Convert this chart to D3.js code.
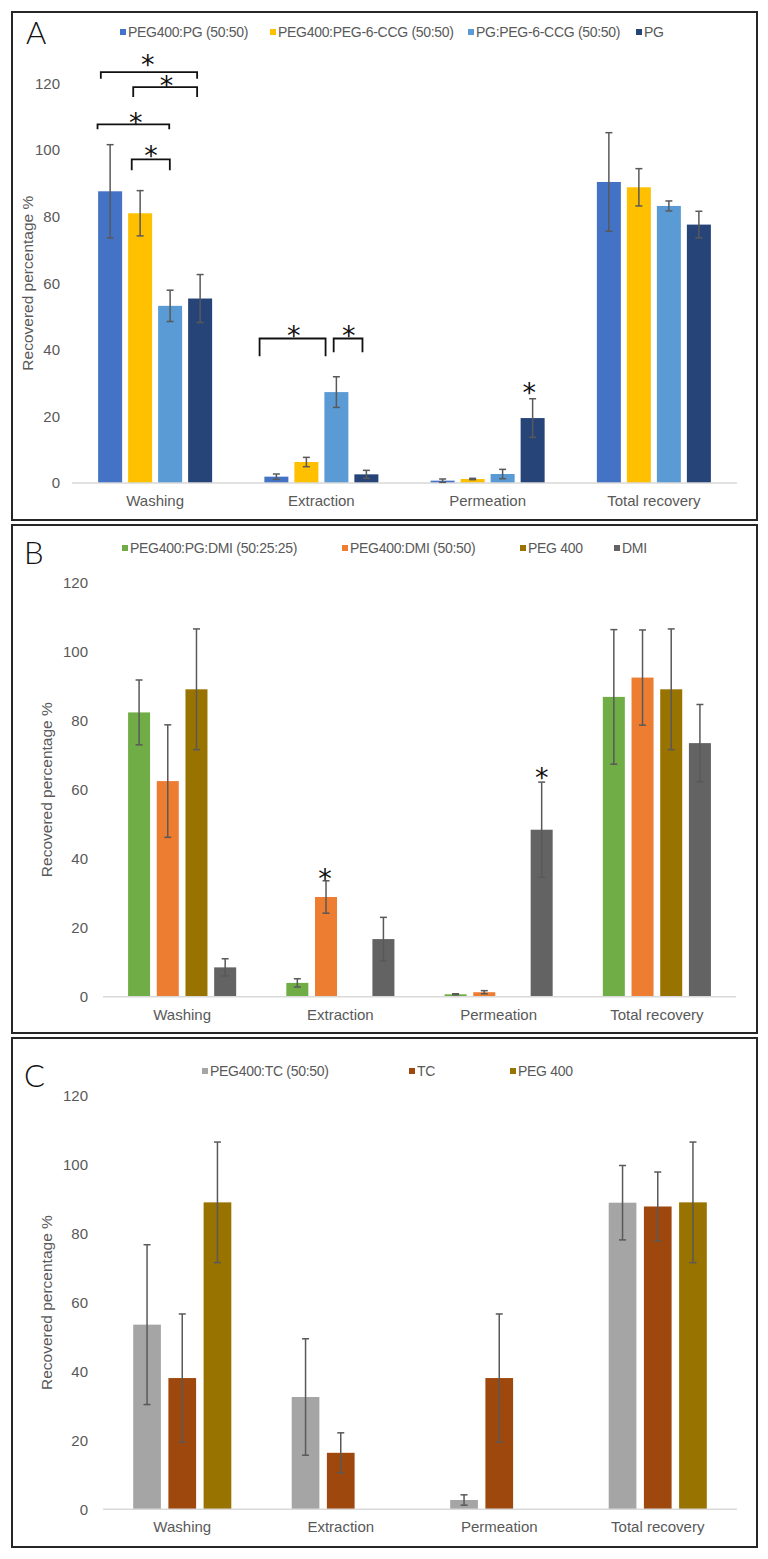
<!DOCTYPE html>
<html>
<head>
<meta charset="utf-8">
<script src="https://cdn.jsdelivr.net/npm/d3@7/dist/d3.min.js"></script>
<style>
  html, body { margin: 0; padding: 0; background: #fff; }
  svg { display: block; }
</style>
</head>
<body>
<svg id="chart" width="768" height="1559"></svg>
<script>
// ---------------- DATA ----------------
const categories = ["Washing", "Extraction", "Permeation", "Total recovery"];
const yTicks = [0, 20, 40, 60, 80, 100, 120];

// Panel A
const seriesA = ["PEG400:PG (50:50)", "PEG400:PEG-6-CCG (50:50)", "PG:PEG-6-CCG (50:50)", "PG"];
const colorsA = ["#4472C4", "#FFC000", "#5B9BD5", "#264478"];
const meanA_PEG400_PG = [87.6, 1.9, 0.7, 90.4];
const errA_PEG400_PG = [14.0, 0.8, 0.5, 14.8];
const meanA_PEG400_CCG = [81.0, 6.3, 1.2, 88.8];
const errA_PEG400_CCG = [6.8, 1.4, 0.2, 5.6];
const meanA_PG_CCG = [53.2, 27.3, 2.7, 83.2];
const errA_PG_CCG = [4.7, 4.6, 1.4, 1.5];
const meanA_PG = [55.4, 2.6, 19.5, 77.6];
const errA_PG = [7.2, 1.2, 5.8, 4.0];

// Panel B
const seriesB = ["PEG400:PG:DMI (50:25:25)", "PEG400:DMI (50:50)", "PEG 400", "DMI"];
const colorsB = ["#70AD47", "#ED7D31", "#997300", "#636363"];
const meanB_PEG400_PG_DMI = [82.4, 4.0, 0.7, 86.9];
const errB_PEG400_PG_DMI = [9.4, 1.2, 0.15, 19.5];
const meanB_PEG400_DMI = [62.5, 28.9, 1.3, 92.5];
const errB_PEG400_DMI = [16.3, 4.7, 0.45, 13.8];
const meanB_PEG400 = [89.1, null, null, 89.1];
const errB_PEG400 = [17.5, null, null, 17.5];
const meanB_DMI = [8.5, 16.7, 48.4, 73.5];
const errB_DMI = [2.5, 6.3, 13.8, 11.2];

// Panel C
const seriesC = ["PEG400:TC (50:50)", "TC", "PEG 400"];
const colorsC = ["#A5A5A5", "#9E480E", "#997300"];
const meanC_PEG400_TC = [53.6, 32.6, 2.7, 89.0];
const errC_PEG400_TC = [23.2, 16.9, 1.5, 10.8];
const meanC_TC = [38.1, 16.4, 38.1, 87.9];
const errC_TC = [18.6, 5.8, 18.6, 10.0];
const meanC_PEG400 = [89.1, null, null, 89.1];
const errC_PEG400 = [17.5, null, null, 17.5];

// Significance annotations (category index, bar-slot positions, value levels)
const bracketsA = [
  { cat: 0, from: -0.31, to: 2.90, top: 123.4, foot: 121.4 },
  { cat: 0, from: 0.77, to: 2.90, top: 118.9, foot: 115.9 },
  { cat: 0, from: -0.42, to: 1.97, top: 107.7, foot: 106.2 },
  { cat: 0, from: 0.72, to: 1.99, top: 97.2, foot: 93.9 },
  { cat: 1, from: -0.56, to: 1.64, top: 43.4, foot: 38.1 },
  { cat: 1, from: 1.91, to: 2.87, top: 43.4, foot: 39.3 }
];
const starsA = [
  { cat: 0, slot: 1.25, value: 127.4 },
  { cat: 0, slot: 1.88, value: 121.2 },
  { cat: 0, slot: 0.85, value: 110.0 },
  { cat: 0, slot: 1.36, value: 100.0 },
  { cat: 1, slot: 0.575, value: 46.2 },
  { cat: 1, slot: 2.41, value: 46.2 },
  { cat: 2, slot: 2.89, value: 28.9 }
];
const starsB = [
  { cat: 1, slot: 0.96, value: 36.1 },
  { cat: 2, slot: 3.0, value: 65.2 }
];

// ---------------- LAYOUT ----------------
const panels = [
  {
    letter: "A", frame: [12, 12, 757, 520], letterPos: [26, 44],
    x0: 72, x1: 737, yZero: 483, yTop: 83.4, tickRight: 60, titleX: 28,
    groupW: 114, padInner: 0.2, labelDy: 23,
    series: seriesA, colors: colorsA,
    means: [meanA_PEG400_PG, meanA_PEG400_CCG, meanA_PG_CCG, meanA_PG],
    errs: [errA_PEG400_PG, errA_PEG400_CCG, errA_PG_CCG, errA_PG],
    legendX: [120, 270, 468, 636], legendY: 32,
    brackets: bracketsA, stars: starsA
  },
  {
    letter: "B", frame: [12, 525, 757, 1033], letterPos: [24, 564],
    x0: 103, x1: 736, yZero: 996.7, yTop: 582.7, tickRight: 88, titleX: 47,
    groupW: 108.1, padInner: 0.233, labelDy: 23,
    series: seriesB, colors: colorsB,
    means: [meanB_PEG400_PG_DMI, meanB_PEG400_DMI, meanB_PEG400, meanB_DMI],
    errs: [errB_PEG400_PG_DMI, errB_PEG400_DMI, errB_PEG400, errB_DMI],
    legendX: [122, 342, 520, 614], legendY: 548,
    brackets: [], stars: starsB
  },
  {
    letter: "C", frame: [12, 1038, 757, 1547], letterPos: [24, 1087],
    x0: 103, x1: 737, yZero: 1509.3, yTop: 1095.9, tickRight: 88, titleX: 47,
    groupW: 98.1, padInner: 0.213, labelDy: 23,
    series: seriesC, colors: colorsC,
    means: [meanC_PEG400_TC, meanC_TC, meanC_PEG400],
    errs: [errC_PEG400_TC, errC_TC, errC_PEG400],
    legendX: [202, 409, 510], legendY: 1071,
    brackets: [], stars: []
  }
];

const svg = d3.select("#chart");
const textGray = "#595959";
const fontMain = "'Liberation Sans', Arial, sans-serif";

panels.forEach(p => {
  const g = svg.append("g");

  // frame
  g.append("rect")
    .attr("x", p.frame[0]).attr("y", p.frame[1])
    .attr("width", p.frame[2] - p.frame[0]).attr("height", p.frame[3] - p.frame[1])
    .attr("fill", "none").attr("stroke", "#262626").attr("stroke-width", 2);

  // letter
  g.append("text").text(p.letter)
    .attr("x", p.letterPos[0]).attr("y", p.letterPos[1])
    .attr("font-family", "Lato, 'Open Sans', sans-serif").attr("font-weight", 300)
    .attr("font-size", 31).attr("fill", "#111");

  const x = d3.scaleBand().domain(d3.range(categories.length)).range([p.x0, p.x1]).padding(0);
  const xs = d3.scaleBand().domain(d3.range(p.series.length)).range([0, p.groupW])
    .paddingInner(p.padInner).paddingOuter(0);
  const groupOff = (x.bandwidth() - p.groupW) / 2;
  const y = d3.scaleLinear().domain([0, 120]).range([p.yZero, p.yTop]);
  const slotX = (cat, s) => x(cat) + groupOff + xs.bandwidth() / 2 + s * xs.step();

  // y tick labels
  g.append("g").selectAll("text").data(yTicks).join("text")
    .attr("x", p.tickRight).attr("y", d => y(d)).attr("dy", "0.36em")
    .attr("text-anchor", "end")
    .attr("font-family", fontMain).attr("font-size", 15).attr("fill", textGray)
    .text(d => d);

  // y axis title
  g.append("text").text("Recovered percentage %")
    .attr("transform", `translate(${p.titleX},${(y(0) + y(120)) / 2}) rotate(-90)`)
    .attr("text-anchor", "middle").attr("dy", "0.35em")
    .attr("font-family", fontMain).attr("font-size", 15.5).attr("fill", textGray);

  // bars
  const barData = [];
  p.series.forEach((s, si) => {
    categories.forEach((c, ci) => {
      const v = p.means[si][ci];
      if (v !== null && v !== undefined) barData.push({ si, ci, v, e: p.errs[si][ci] });
    });
  });

  g.append("g").selectAll("rect").data(barData).join("rect")
    .attr("x", d => x(d.ci) + groupOff + xs(d.si))
    .attr("width", xs.bandwidth())
    .attr("y", d => y(d.v))
    .attr("height", d => y(0) - y(d.v))
    .attr("fill", d => p.colors[d.si]);

  // x axis line
  g.append("line")
    .attr("x1", p.x0).attr("x2", p.x1).attr("y1", y(0)).attr("y2", y(0))
    .attr("stroke", "#D9D9D9").attr("stroke-width", 1.5);

  // category labels
  g.append("g").selectAll("text").data(categories).join("text")
    .attr("x", (d, i) => x(i) + x.bandwidth() / 2)
    .attr("y", y(0) + p.labelDy)
    .attr("text-anchor", "middle")
    .attr("font-family", fontMain).attr("font-size", 15).attr("fill", textGray)
    .text(d => d);

  // error bars
  const eg = g.append("g").attr("stroke", "#595959").attr("stroke-width", 1.5).attr("fill", "none");
  const cap = 3.5;
  barData.filter(d => d.e).forEach(d => {
    const cx = x(d.ci) + groupOff + xs(d.si) + xs.bandwidth() / 2;
    const yt = y(d.v + d.e), yb = y(Math.max(0, d.v - d.e));
    eg.append("line").attr("x1", cx).attr("x2", cx).attr("y1", yt).attr("y2", yb);
    eg.append("line").attr("x1", cx - cap).attr("x2", cx + cap).attr("y1", yt).attr("y2", yt);
    eg.append("line").attr("x1", cx - cap).attr("x2", cx + cap).attr("y1", yb).attr("y2", yb);
  });

  // brackets
  const bg = g.append("g").attr("stroke", "#111").attr("stroke-width", 1.8).attr("fill", "none");
  p.brackets.forEach(b => {
    const xa = slotX(b.cat, b.from), xb = slotX(b.cat, b.to);
    bg.append("path").attr("d",
      `M${xa},${y(b.foot)}V${y(b.top)}H${xb}V${y(b.foot)}`);
  });

  // stars
  const starFs = 27;
  g.append("g").selectAll("text").data(p.stars).join("text")
    .attr("x", d => slotX(d.cat, d.slot))
    .attr("y", d => y(d.value) + 0.57 * starFs)
    .attr("text-anchor", "middle")
    .attr("font-family", "'DejaVu Sans', sans-serif")
    .attr("font-size", starFs).attr("fill", "#111")
    .text("*");

  // legend
  const lg = g.append("g");
  p.series.forEach((s, i) => {
    lg.append("rect").attr("x", p.legendX[i]).attr("y", p.legendY - 3).attr("width", 6).attr("height", 6)
      .attr("fill", p.colors[i]);
    lg.append("text").text(s)
      .attr("x", p.legendX[i] + 8).attr("y", p.legendY).attr("dy", "0.36em")
      .attr("font-family", fontMain).attr("font-size", 14).attr("letter-spacing", -0.3)
      .attr("fill", textGray);
  });
});
</script>
</body>
</html>
